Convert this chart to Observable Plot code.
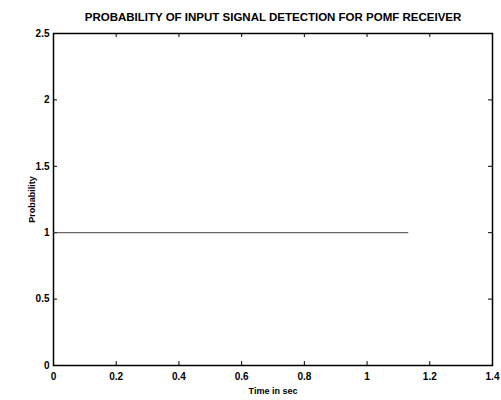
<!DOCTYPE html>
<html><head><meta charset="utf-8">
<script src="https://cdn.jsdelivr.net/npm/d3@7"></script>
<script src="https://cdn.jsdelivr.net/npm/@observablehq/plot@0.6"></script>
<style>body{margin:0;background:#fff}</style>
</head><body><div id="chart"></div>
<script>
const title = "PROBABILITY OF INPUT SIGNAL DETECTION FOR POMF RECEIVER";
const xLabel = "Time in sec";
const yLabel = "Probability";
const times = [0, 1.13];
const probability = [1, 1];
const xTicks = [0, 0.2, 0.4, 0.6, 0.8, 1, 1.2, 1.4];
const yTicks = [0, 0.5, 1, 1.5, 2, 2.5];
const data = times.map((t, i) => ({t, p: probability[i]}));
const W = 501, H = 400, mL = 53, mR = 9, mT = 33, mB = 35;
const xPx = 4 * 1.4 / (W - mL - mR), yPx = 4 * 2.5 / (H - mT - mB);
const chart = Plot.plot({
  width: W, height: H,
  marginLeft: mL, marginRight: mR, marginTop: mT, marginBottom: mB,
  style: {fontFamily: "Liberation Sans, Arial, sans-serif", fontSize: "10px", fontWeight: "bold", color: "#000", background: "#fff"},
  x: {domain: [0, 1.4], ticks: xTicks, tickFormat: d => String(d), tickSize: 0, tickPadding: 7, label: null},
  y: {domain: [0, 2.5], ticks: yTicks, tickFormat: d => String(d), tickSize: 0, tickPadding: 4, label: null},
  marks: [
    Plot.frame({stroke: "#000", strokeWidth: 1.5}),
    Plot.ruleX(xTicks, {y1: 0, y2: yPx, stroke: "#000"}),
    Plot.ruleX(xTicks, {y1: 2.5, y2: 2.5 - yPx, stroke: "#000"}),
    Plot.ruleY(yTicks, {x1: 0, x2: xPx, stroke: "#000"}),
    Plot.ruleY(yTicks, {x1: 1.4, x2: 1.4 - xPx, stroke: "#000"}),
    Plot.line(data, {x: "t", y: "p", stroke: "#444", strokeWidth: 1}),
    Plot.text([title], {frameAnchor: "top", dy: -21, fontSize: 11.5, fontWeight: "bold", text: d => d}),
    Plot.text([xLabel], {frameAnchor: "bottom", dy: 28, fontSize: 9, fontWeight: "bold", text: d => d}),
    Plot.text([yLabel], {frameAnchor: "left", dx: -21, rotate: -90, textAnchor: "middle", fontSize: 9, fontWeight: "bold", text: d => d})
  ]
});
document.getElementById("chart").append(chart);
</script>
</body></html>
